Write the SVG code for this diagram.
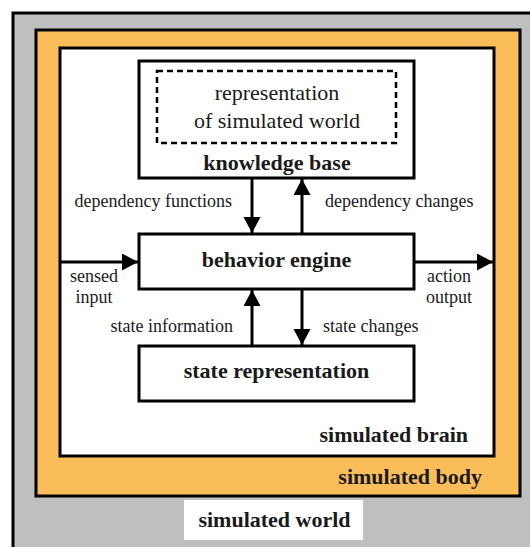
<svg xmlns="http://www.w3.org/2000/svg" width="530" height="547" viewBox="0 0 530 547">
<style>
  .box { fill: #ffffff; stroke: #000; stroke-width: 3; }
  .bold { font-family: "Liberation Serif", "Times New Roman", serif; font-weight: bold; font-size: 22px; fill: #1a1a1a; }
  .reg { font-family: "Liberation Serif", "Times New Roman", serif; font-size: 18px; fill: #1a1a1a; }
  .big { font-family: "Liberation Serif", "Times New Roman", serif; font-size: 22px; fill: #1a1a1a; }
  .conn { stroke: #000; stroke-width: 3; fill: none; marker-end: url(#ah); }
</style>
<defs>
  <marker id="ah" markerUnits="userSpaceOnUse" markerWidth="17" markerHeight="18" refX="16" refY="8.5" orient="auto">
    <path d="M0,0 L16,8.5 L0,17 z" fill="#000"/>
  </marker>
</defs>
<rect width="530" height="547" fill="#ffffff"/>
<g id="world">
  <rect x="13" y="13" width="540" height="560" fill="#bfbfbf" stroke="#000" stroke-width="3"/>
  <rect x="184" y="500" width="179" height="40" fill="#ffffff"/>
  <text class="bold" x="274.5" y="527" text-anchor="middle">simulated world</text>
</g>
<g id="body">
  <rect x="36" y="30" width="484" height="466" fill="#fbbd59" stroke="#000" stroke-width="3"/>
  <text class="bold" x="482" y="484" text-anchor="end">simulated body</text>
</g>
<g id="brain">
  <rect x="60" y="48" width="434" height="408" fill="#ffffff" stroke="#000" stroke-width="3"/>
  <text class="bold" x="468" y="442" text-anchor="end">simulated brain</text>
</g>
<g id="knowledge-base">
  <rect class="box" x="139" y="61" width="275" height="117"/>
  <rect x="157" y="71" width="239" height="72" fill="none" stroke="#000" stroke-width="2.5" stroke-dasharray="6,4"/>
  <text class="big" x="277" y="100" text-anchor="middle">representation</text>
  <text class="big" x="277" y="128" text-anchor="middle">of simulated world</text>
  <text class="bold" x="277" y="170" text-anchor="middle">knowledge base</text>
</g>
<g id="behavior-engine">
  <rect class="box" x="139" y="234" width="275" height="55"/>
  <text class="bold" x="276.5" y="267" text-anchor="middle">behavior engine</text>
</g>
<g id="state-representation">
  <rect class="box" x="139" y="346" width="275" height="55"/>
  <text class="bold" x="276.5" y="378" text-anchor="middle">state representation</text>
</g>
<g id="connectors">
  <line class="conn" x1="252" y1="178" x2="252" y2="233"/>
  <line class="conn" x1="302" y1="234" x2="302" y2="179"/>
  <line class="conn" x1="252" y1="346" x2="252" y2="290"/>
  <line class="conn" x1="302" y1="289" x2="302" y2="345"/>
  <line class="conn" x1="60" y1="262" x2="138" y2="262"/>
  <line class="conn" x1="414" y1="262" x2="493" y2="262"/>
  <text class="reg" x="232" y="207" text-anchor="end">dependency functions</text>
  <text class="reg" x="325" y="207">dependency changes</text>
  <text class="reg" x="233" y="332" text-anchor="end">state information</text>
  <text class="reg" x="323" y="332">state changes</text>
  <text class="reg" x="94" y="282" text-anchor="middle">sensed</text>
  <text class="reg" x="94" y="303" text-anchor="middle">input</text>
  <text class="reg" x="449" y="282" text-anchor="middle">action</text>
  <text class="reg" x="449" y="303" text-anchor="middle">output</text>
</g>
</svg>
